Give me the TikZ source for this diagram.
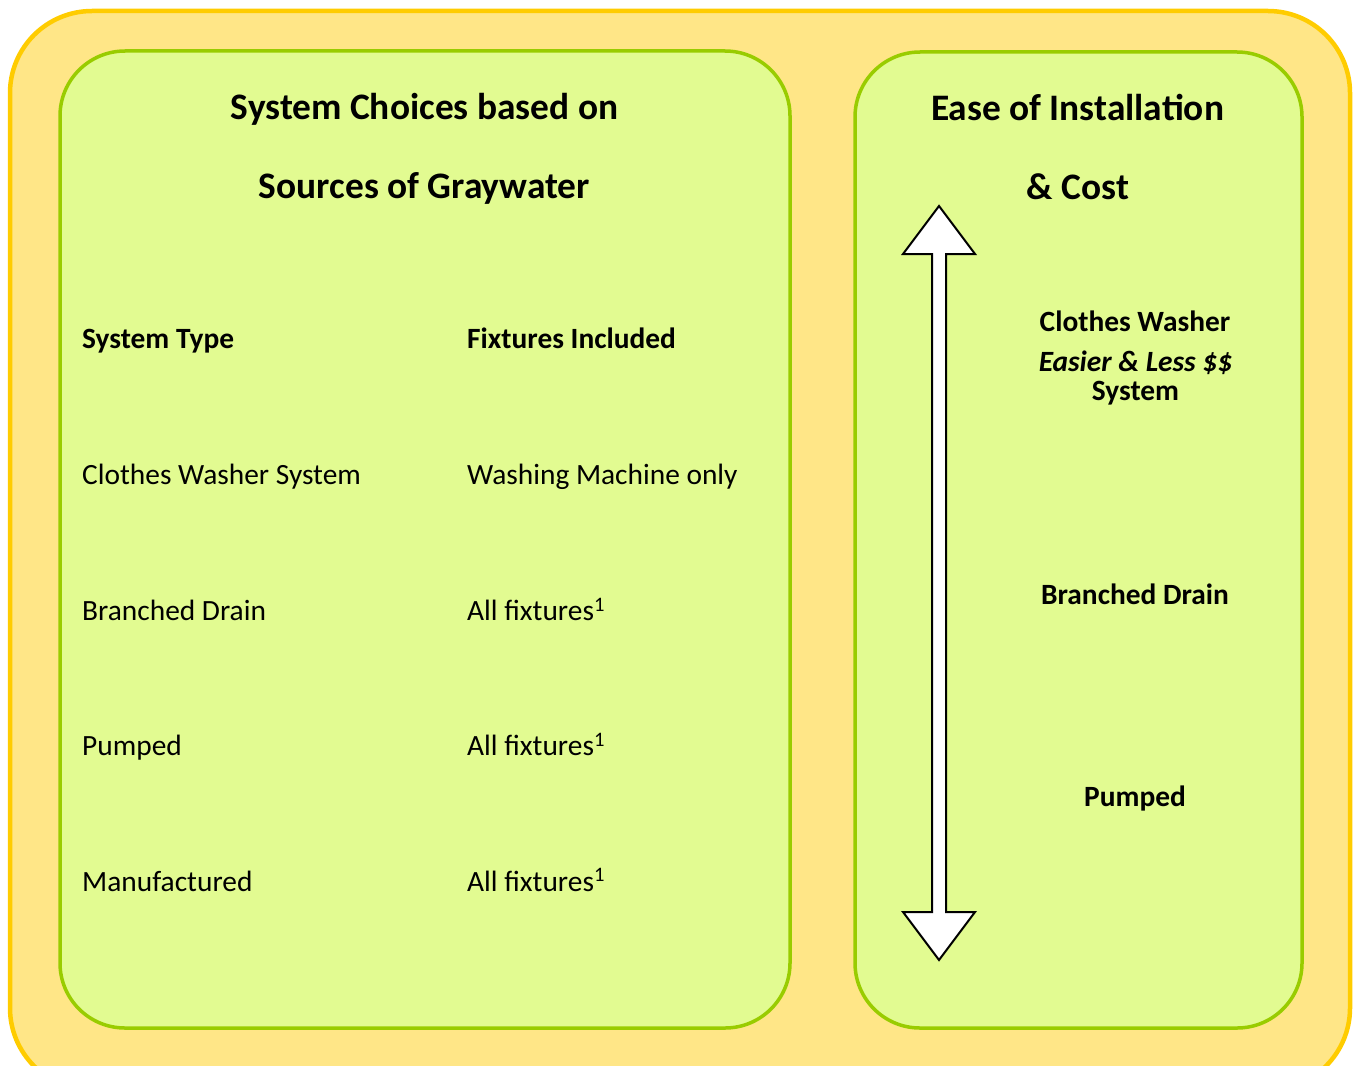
\documentclass[tikz,border=0pt]{standalone}
\usepackage{fontspec}
\setmainfont{Carlito}
\definecolor{outerfill}{HTML}{FFE687}
\definecolor{outerline}{HTML}{FFCC00}
\definecolor{panelfill}{HTML}{E2FB91}
\definecolor{panelline}{HTML}{99CC00}
\begin{document}
\begin{tikzpicture}[x=1pt,y=-1pt,
  panel/.style={draw=panelline,fill=panelfill,line width=3.5pt,rounded corners=65pt},
  title/.style={font=\fontsize{37.4}{44}\selectfont\bfseries,inner sep=0pt,anchor=base},
  cell/.style={font=\fontsize{29.4}{35}\selectfont,inner sep=0pt,anchor=base west},
  head/.style={font=\fontsize{29.4}{35}\selectfont\bfseries,inner sep=0pt,anchor=base west},
  rlabel/.style={font=\fontsize{29.4}{35}\selectfont\bfseries,inner sep=0pt,anchor=base}]
  \clip (0,0) rectangle (1356,1065);
  \fill[white] (0,0) rectangle (1356,1065);
  % outer frame
  \draw[draw=outerline,fill=outerfill,line width=4.5pt,rounded corners=82pt]
    (10,11) rectangle (1350,1090);
  % panels
  \draw[panel] (60,51) rectangle (790,1028);
  \draw[panel] (855,52) rectangle (1302,1028);
  % left panel texts
  \node[title] (t1) at (424.5,119.5) {System Choices based on};
  \node[title] (t2) at (424.5,198) {Sources of Graywater};
  \node[head] (h1) at (82,348) {System Type};
  \node[head] (h2) at (467,348) {Fixtures Included};
  \node[cell] (a1) at (82,484.5) {Clothes Washer System};
  \node[cell] (b1) at (467,484.5) {Washing Machine only};
  \node[cell] (a2) at (82,620.5) {Branched Drain};
  \node[cell] (b2) at (467,620.5) {All fixtures\textsuperscript{1}};
  \node[cell] (a3) at (82,755.5) {Pumped};
  \node[cell] (b3) at (467,755.5) {All fixtures\textsuperscript{1}};
  \node[cell] (a4) at (82,891) {Manufactured};
  \node[cell] (b4) at (467,891) {All fixtures\textsuperscript{1}};
  % right panel texts
  \node[title] (r1) at (1077.5,120.5) {Ease of Installation};
  \node[title] (r2) at (1078,199) {\& Cost};
  \node[rlabel] (c1) at (1135,331) {Clothes Washer};
  \node[rlabel,align=center,font=\fontsize{29.4}{29}\selectfont\bfseries,anchor=north]
    (c2) at (1135.5,351) {\textit{Easier \& Less \$\$}\\System};
  \node[rlabel] (c4) at (1135,604) {Branched Drain};
  \node[rlabel] (c5) at (1135,806) {Pumped};
  % double-headed block arrow
  \draw[fill=white,line width=2pt,line join=miter]
    (939,206) -- (975,254) -- (946,254) -- (946,912) -- (975,912) -- (939,960)
    -- (903,912) -- (932,912) -- (932,254) -- (903,254) -- cycle;
\end{tikzpicture}
\end{document}
